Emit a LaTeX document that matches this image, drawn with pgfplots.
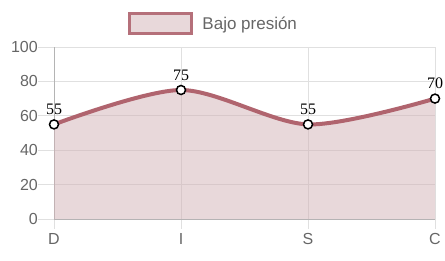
\documentclass[border=0pt]{standalone}
\usepackage{pgfplots}
\pgfplotsset{compat=1.18}
\usepackage{fontspec}
\setmainfont{Liberation Sans}
\newfontfamily\seriffont{Liberation Serif}
\definecolor{lc}{RGB}{176,100,110}
\definecolor{lbd}{RGB}{181,112,122}
\definecolor{fc}{RGB}{232,216,218}
\definecolor{fcx}{RGB}{209,177,181}
\definecolor{txt}{RGB}{102,102,102}
\definecolor{gridc}{RGB}{224,224,224}
\definecolor{axc}{RGB}{180,180,180}
\begin{document}
\begin{tikzpicture}
\useasboundingbox (0,0) rectangle (445bp,261bp);
% y ticks and labels
\begin{axis}[
  at={(54bp,42bp)}, anchor=south west,
  scale only axis, width=381bp, height=172bp,
  xmin=0, xmax=3, ymin=0, ymax=100,
  xtick=\empty, axis x line=none, axis y line*=left,
  axis line style={draw=none},
  ytick={0,20,40,60,80,100},
  tick align=outside, major tick length=16bp,
  ytick style={draw=gridc, line width=0.8bp},
  tick label style={font=\fontsize{16bp}{19bp}\selectfont, text=txt},
  /pgf/number format/assume math mode=true,
  yticklabel style={inner sep=0pt},
]
\end{axis}
\begin{axis}[
  at={(54bp,42bp)}, anchor=south west,
  scale only axis, width=381bp, height=172bp,
  xmin=0, xmax=3, ymin=0, ymax=100,
  xtick={0,1,2,3}, xticklabels={D,I,S,C},
  ytick={0,20,40,60,80,100}, yticklabels={},
  axis x line*=bottom, axis y line*=left,
  axis line style={draw=axc, line width=0.8bp, -},
  grid=both, grid style={draw=gridc, line width=0.8bp},
  tick align=outside, major tick length=10bp,
  xtick style={draw=gridc, line width=0.8bp},
  ytick style={draw=none},
  tick label style={font=\fontsize{16bp}{19bp}\selectfont, text=txt},
  xticklabel style={inner sep=0pt, yshift=-4bp},
  /pgf/number format/assume math mode=true,
  clip=false,
  legend style={at={(0.4186,1.1366)}, anchor=center, draw=none, fill=none,
    font=\fontsize{17bp}{20bp}\selectfont, text=txt, inner sep=0pt},
  legend image code/.code={\draw[line width=3bp, draw=lbd, fill=fc] (0bp,-10bp) rectangle (62bp,10bp);
    \path (69bp,0bp);},
]
\addplot[smooth, draw=none, fill=fcx, fill opacity=0.5, forget plot] coordinates {(0,55) (1,75) (2,55) (3,70)} \closedcycle;
\addplot[smooth, draw=lc, line width=4bp,
  mark=*, mark size=4.5bp, mark options={fill=white, draw=black, line width=1.5bp},
  nodes near coords, every node near coord/.append style={font=\seriffont\fontsize{16bp}{19bp}\selectfont, text=black, inner sep=0pt, anchor=south, yshift=9bp}]
  coordinates {(0,55) (1,75) (2,55) (3,70)};
\addlegendentry{Bajo presión}
\end{axis}
\end{tikzpicture}
\end{document}
